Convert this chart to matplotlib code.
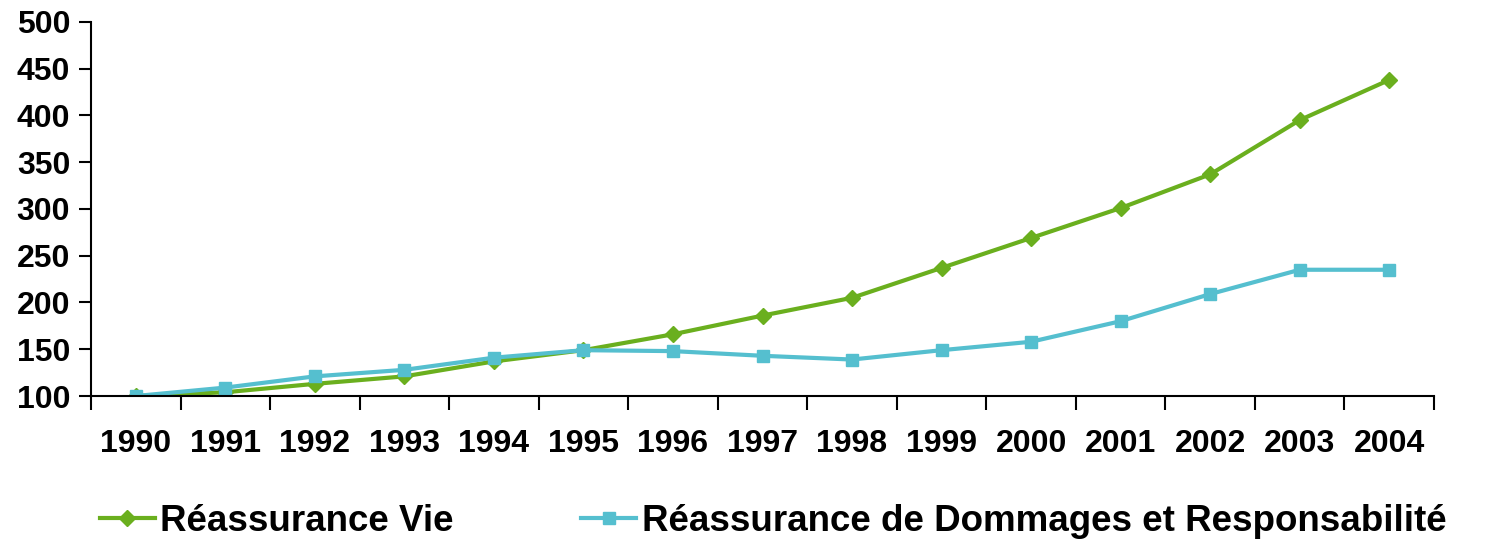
import numpy as np
import matplotlib.pyplot as plt

years = ["1990", "1991", "1992", "1993", "1994", "1995", "1996", "1997",
         "1998", "1999", "2000", "2001", "2002", "2003", "2004"]
vie = [100, 104, 113, 121, 137, 149, 166, 186, 205, 237, 269, 301, 337, 395, 438]
dommages = [100, 109, 121, 128, 141, 149, 148, 143, 139, 149, 158, 180, 209, 235, 235]

GREEN = "#6aaf1e"
CYAN = "#55bfcf"

plt.rcParams['font.family'] = ['Liberation Sans', 'DejaVu Sans']
plt.rcParams['font.weight'] = 'bold'

fig = plt.figure(figsize=(14.88, 5.39), dpi=100)
ax = fig.add_axes([0.0612, 0.2653, 0.9025, 0.694])

x = np.arange(len(years))
ax.plot(x, vie, color=GREEN, lw=3, marker="D", ms=8.5, label="Réassurance Vie")
ax.plot(x, dommages, color=CYAN, lw=3, marker="s", ms=8.5,
        label="Réassurance de Dommages et Responsabilité")

ax.set_xlim(-0.5, len(years) - 0.5)
ax.set_ylim(100, 500)
ax.set_yticks(range(100, 501, 50))
ax.tick_params(axis='y', labelsize=23, length=9, width=1.5, pad=6)

# category axis: ticks on boundaries, labels at centres
ax.set_xticks(np.arange(-0.5, len(years), 1.0))
ax.set_xticklabels([])
ax.set_xticks(x, minor=True)
ax.set_xticklabels(years, minor=True, fontsize=23, fontweight='bold')
ax.tick_params(axis='x', which='major', length=10, width=1.5)
ax.tick_params(axis='x', which='minor', length=0, pad=24)

for s in ['top', 'right']:
    ax.spines[s].set_visible(False)
for s in ['left', 'bottom']:
    ax.spines[s].set_linewidth(1.5)

fig.legend(loc='lower left', bbox_to_anchor=(0.067, 0.0), ncol=2,
           frameon=False, prop={'size': 26.5, 'weight': 'bold'},
           borderpad=0, borderaxespad=0,
           handlelength=1.5, handletextpad=0.15, columnspacing=3.45)

fig.savefig("out.png", dpi=100)
